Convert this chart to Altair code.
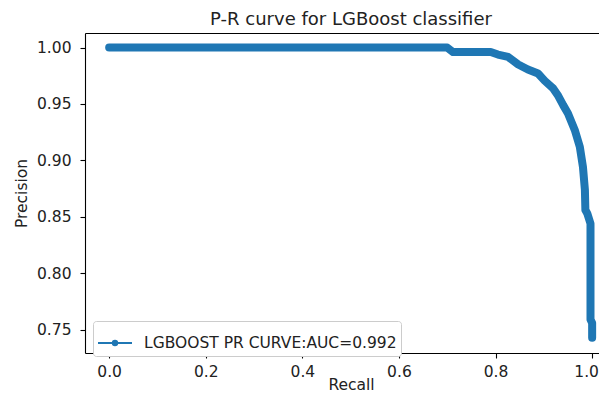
import altair as alt
import pandas as pd

recall = [0.0, 0.70, 0.712, 0.79, 0.805, 0.826, 0.847, 0.867, 0.888, 0.902, 0.919,
          0.93, 0.94, 0.95, 0.964, 0.9745, 0.981, 0.985, 0.986, 0.990, 0.9966,
          0.9966, 1.0, 1.0]
precision = [1.0, 1.0, 0.996, 0.996, 0.9938, 0.9917, 0.985, 0.9805, 0.977, 0.9705,
             0.964, 0.957, 0.949, 0.9416, 0.927, 0.912, 0.894, 0.874, 0.856, 0.853,
             0.844, 0.759, 0.756, 0.743]
series_label = "LGBOOST PR CURVE:AUC=0.992"
x_ticks = [0.0, 0.2, 0.4, 0.6, 0.8, 1.0]
y_ticks = [0.75, 0.80, 0.85, 0.90, 0.95, 1.00]

df = pd.DataFrame({
    "recall": recall,
    "precision": precision,
    "idx": list(range(len(recall))),
    "series": [series_label] * len(recall),
})

FONT = "DejaVu Sans"
BLUE = "#1f77b4"
TXT = "#222222"
FS = 15.5
x_dom = [-0.05, 1.0142]
y_dom = [0.7294, 1.0129]

legend_symbol = ("M-1,0H1M0.13,0A0.13,0.13 0 1,1 -0.13,0"
                 "A0.13,0.13 0 1,1 0.13,0Z")

main = alt.Chart(df).mark_line(
    strokeWidth=8, strokeCap="round", strokeJoin="round", clip=True
).encode(
    x=alt.X("recall:Q",
            scale=alt.Scale(domain=x_dom, nice=False, zero=False),
            axis=alt.Axis(values=x_ticks, format=".1f", title="Recall",
                          grid=False, domainColor="black", domainWidth=1.1,
                          tickColor="black", tickWidth=1.1, tickSize=5,
                          labelPadding=6, labelFont=FONT, labelFontSize=FS,
                          labelColor=TXT, titleFont=FONT, titleFontSize=FS,
                          titleFontWeight="normal", titleColor=TXT,
                          titleX=266, titleY=36.5, titleBaseline="alphabetic",
                          titleAnchor="start", titleAlign="center",
                          labelOffset=alt.ExprRef(expr="datum.value == 1 ? -6 : 0"),
                          labelFlush=False)),
    y=alt.Y("precision:Q",
            scale=alt.Scale(domain=y_dom, nice=False, zero=False),
            axis=alt.Axis(values=y_ticks, format=".2f", title="Precision",
                          grid=False, domainColor="black", domainWidth=1.1,
                          tickColor="black", tickWidth=1.1, tickSize=5,
                          labelPadding=9, labelFont=FONT, labelFontSize=FS,
                          labelColor=TXT, titleFont=FONT, titleFontSize=FS,
                          titleFontWeight="normal", titleColor=TXT,
                          titleX=-64, titleY=160, titleAnchor="start",
                          titleAlign="center", titleBaseline="middle",
                          labelFlush=False)),
    order="idx:Q",
    color=alt.Color("series:N",
                    scale=alt.Scale(range=[BLUE]),
                    legend=alt.Legend(
                        title=None, orient="none", legendX=8, legendY=288,
                        symbolType=legend_symbol, symbolSize=1156,
                        symbolStrokeWidth=2, symbolStrokeColor=BLUE,
                        symbolFillColor=BLUE, labelFont=FONT,
                        labelFontSize=FS, labelColor=TXT, labelOffset=11,
                        padding=4, fillColor="white", strokeColor="#cccccc",
                        cornerRadius=3, labelLimit=400)),
)

top_spine = alt.Chart(df).mark_line(opacity=0).encode(
    x=alt.X("recall:Q",
            scale=alt.Scale(domain=x_dom, nice=False, zero=False),
            axis=alt.Axis(orient="top", labels=False, ticks=False, title=None,
                          grid=False, domainColor="black", domainWidth=1.1)),
    y=alt.Y("precision:Q", scale=alt.Scale(domain=y_dom, nice=False, zero=False)),
)

chart = alt.layer(main, top_spine).resolve_scale(x="independent").properties(
    width=514, height=320,
    autosize=alt.AutoSizeParams(type="none"),
    padding={"left": 77, "top": 25, "right": 0, "bottom": 41},
    title=alt.TitleParams("P-R curve for LGBoost classifier", font=FONT,
                          fontSize=18, fontWeight="normal", color=TXT,
                          anchor="middle", dx=9, offset=4),
).configure_view(stroke=None)

chart.save("out.html", embed_options={"renderer": "svg", "actions": False})
